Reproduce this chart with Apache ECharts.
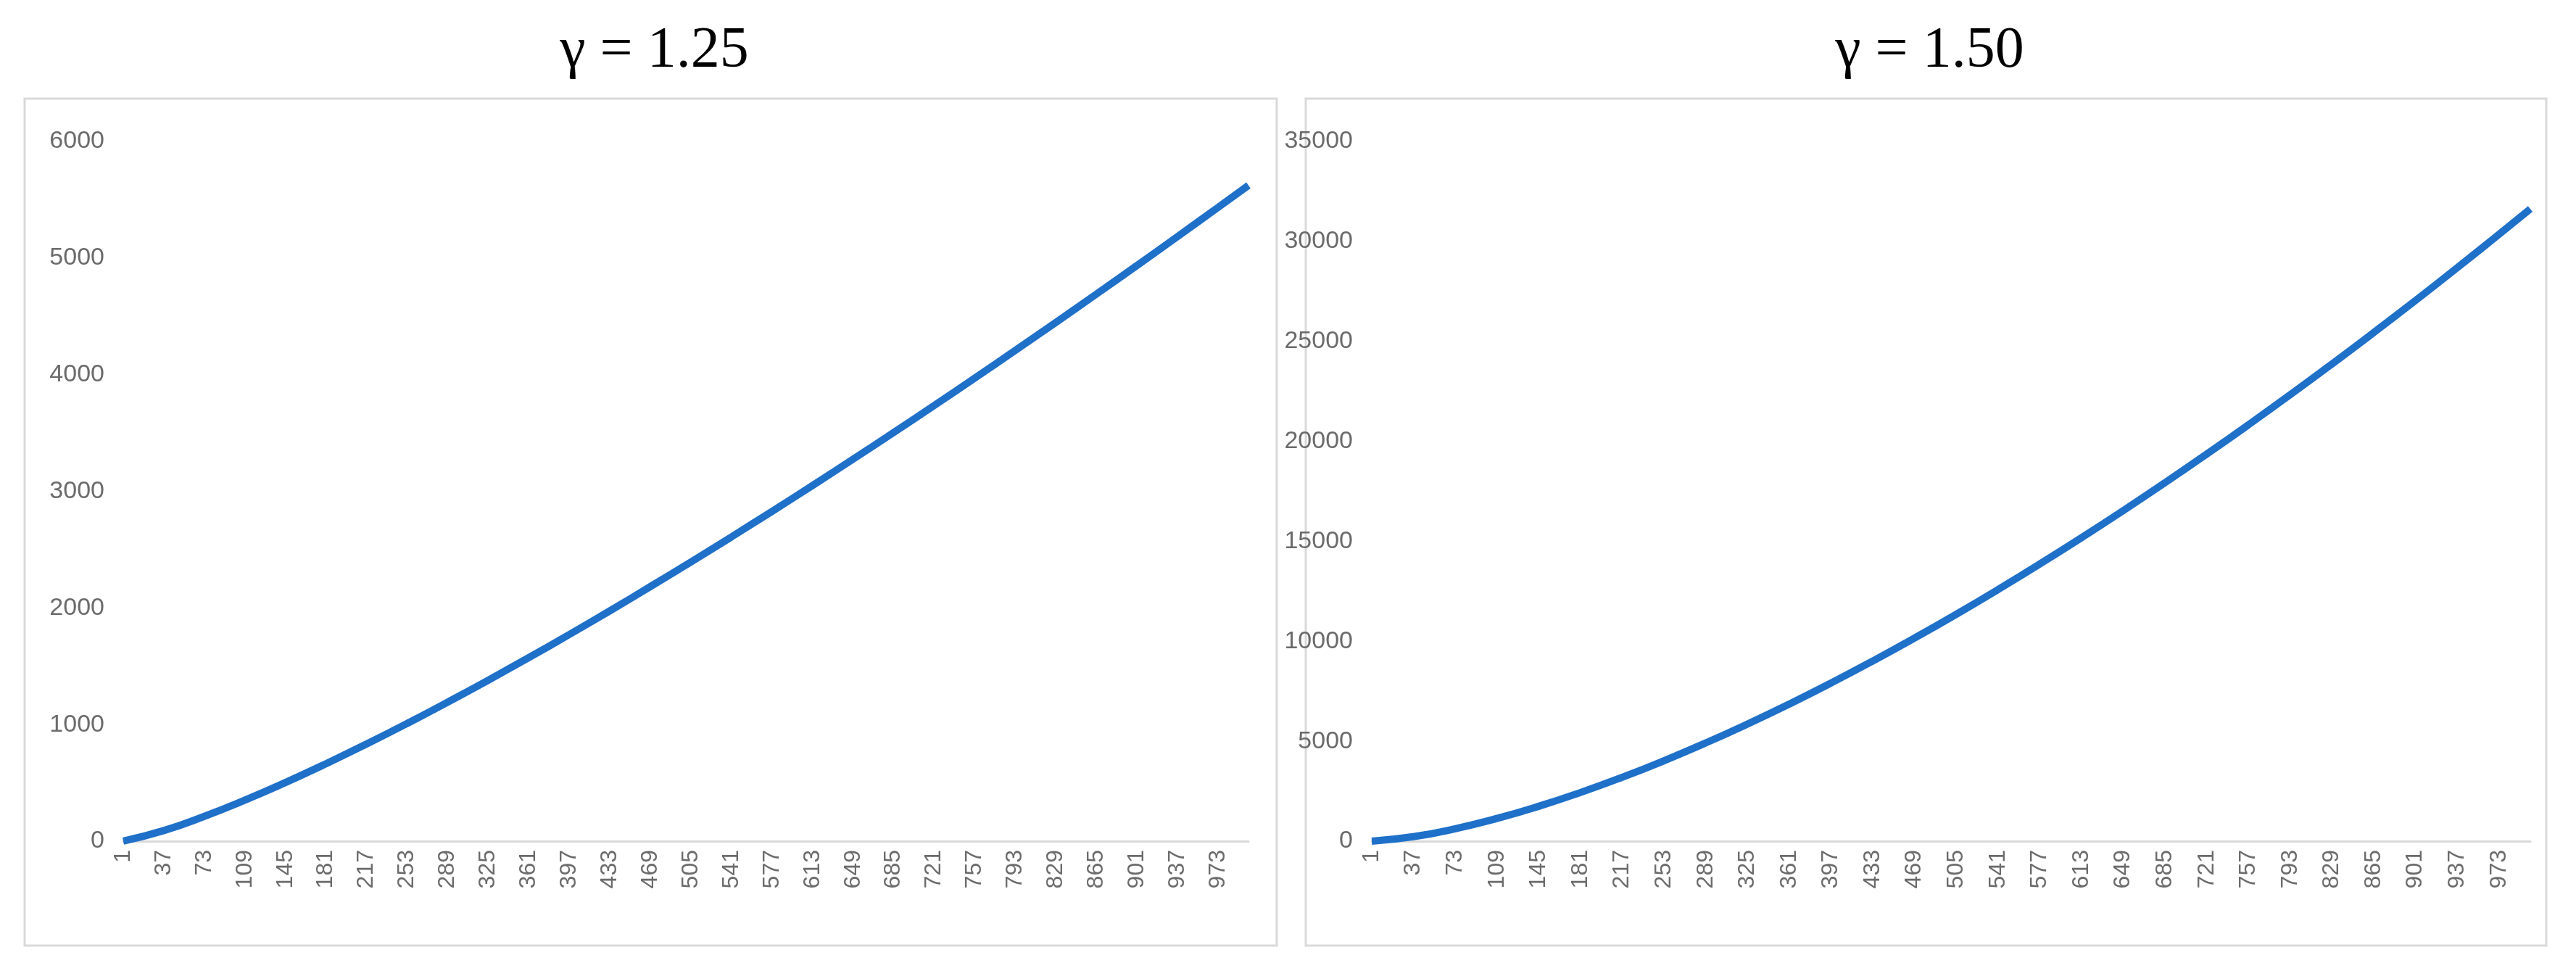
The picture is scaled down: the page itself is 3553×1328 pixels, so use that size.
<!DOCTYPE html>
<html>
<head>
<meta charset="utf-8">
<script src="https://cdn.jsdelivr.net/npm/echarts@6/dist/echarts.min.js"></script>
<style>html,body{margin:0;padding:0;background:#fff}#main{width:3553px;height:1328px}</style>
</head>
<body>
<div id="main"></div>
<script>
// sample points (x index, value)
var sampleX = [1, 37, 73, 109, 145, 181, 217, 253, 289, 325, 361, 397, 433, 469, 505, 541, 577, 613, 649, 685, 721, 757, 793, 829, 865, 901, 937, 973, 1000];
var values125 = [1, 91, 213, 352, 503, 664, 833, 1009, 1192, 1380, 1574, 1772, 1975, 2183, 2394, 2609, 2828, 3050, 3276, 3504, 3736, 3971, 4208, 4448, 4691, 4936, 5184, 5434, 5623];
var values150 = [1, 225, 624, 1138, 1746, 2435, 3197, 4024, 4913, 5859, 6859, 7910, 9010, 10157, 11348, 12583, 13860, 15177, 16534, 17928, 19360, 20828, 22331, 23869, 25441, 27045, 28682, 30351, 31623];
var titles = ['\u03b3 = 1.25', '\u03b3 = 1.50'];
var yMax = [6000, 35000];
var yStep = [1000, 5000];

var categories = [];
for (var i = 1; i <= 1000; i++) categories.push(String(i));

function pairs(vals) {
  return sampleX.map(function (x, k) { return [x - 1, vals[k]]; });
}

var grey = '#6b6b6b';
var font = 'Liberation Sans';
var panels = [
  {left: 170, right: 3553 - 1722, boxL: 34, boxR: 1761},
  {left: 1892, right: 3553 - 3490, boxL: 1801, boxR: 3512}
];

var myChart = echarts.init(document.getElementById('main'));
var option = {
  animation: false,
  title: panels.map(function (p, k) {
    return {
      text: titles[k], left: (p.boxL + p.boxR) / 2, top: 26, textAlign: 'center',
      textStyle: {fontFamily: 'Liberation Serif', fontSize: 80, fontWeight: 'normal', color: '#000'}
    };
  }),
  graphic: panels.map(function (p) {
    return {type: 'rect', shape: {x: p.boxL, y: 136, width: p.boxR - p.boxL, height: 1168},
      style: {fill: null, stroke: '#d9d9d9', lineWidth: 3}};
  }),
  grid: panels.map(function (p) {
    return {left: p.left, right: p.right, top: 195, bottom: 1328 - 1160};
  }),
  xAxis: panels.map(function (p, k) {
    return {
      type: 'category', gridIndex: k, data: categories, boundaryGap: false,
      axisLine: {lineStyle: {color: '#d9d9d9', width: 3}},
      axisTick: {show: false},
      axisLabel: {interval: 35, rotate: 90, color: grey, fontFamily: font, fontSize: 32, margin: 12}
    };
  }),
  yAxis: panels.map(function (p, k) {
    return {
      type: 'value', gridIndex: k, min: 0, max: yMax[k], interval: yStep[k],
      axisLine: {show: false}, axisTick: {show: false}, splitLine: {show: false},
      axisLabel: {color: grey, fontFamily: font, fontSize: 34, margin: 26,
        formatter: function (v) { return String(v); }}
    };
  }),
  series: [values125, values150].map(function (v, k) {
    return {
      type: 'line', xAxisIndex: k, yAxisIndex: k, data: pairs(v), smooth: true,
      showSymbol: false, lineStyle: {color: '#1f70c8', width: 10}
    };
  })
};
myChart.setOption(option);
</script>
</body>
</html>
